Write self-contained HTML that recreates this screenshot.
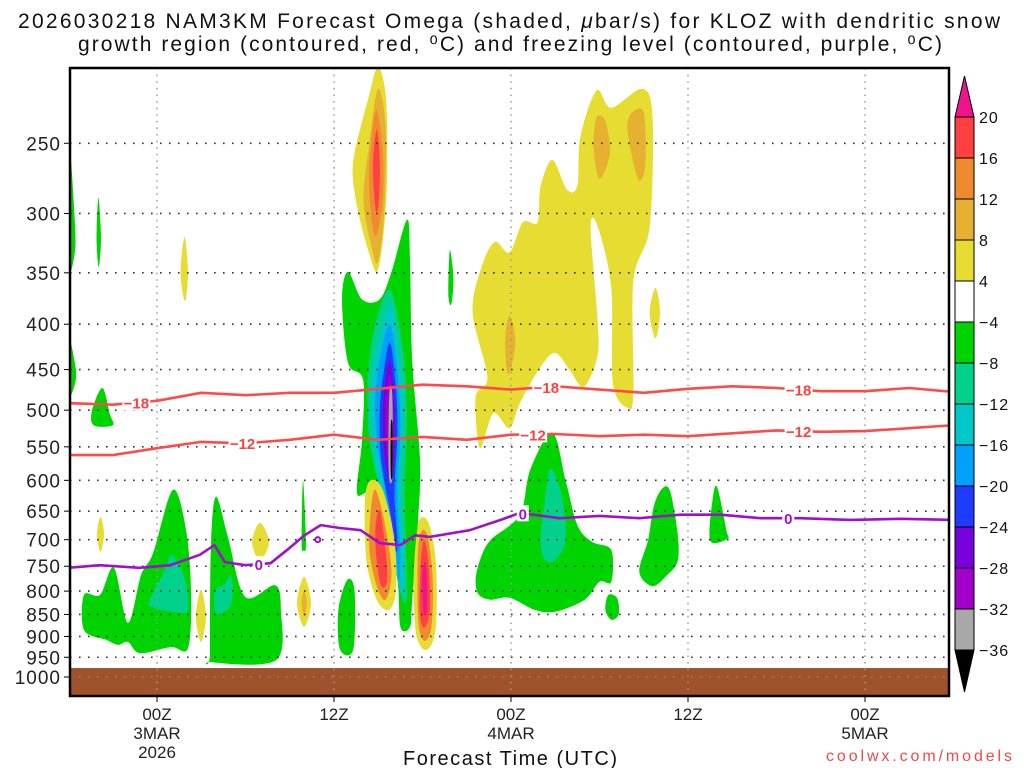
<!DOCTYPE html>
<html><head><meta charset="utf-8"><style>
html,body{margin:0;padding:0;background:#fff;}
svg{display:block;font-family:"Liberation Sans",sans-serif;}
</style></head><body>
<svg id="chart" width="1024" height="768" viewBox="0 0 1024 768" xmlns="http://www.w3.org/2000/svg">
<defs><clipPath id="plotclip"><rect x="70" y="68" width="879" height="628"/></clipPath></defs>
<rect width="1024" height="768" fill="#fff"/>
<text x="18" y="28" textLength="982" lengthAdjust="spacing" font-size="21" fill="#111">2026030218 NAM3KM Forecast Omega (shaded, <tspan font-style="italic">μ</tspan>bar/s) for KLOZ with dendritic snow</text>
<text x="78" y="51" textLength="864" lengthAdjust="spacing" font-size="21" fill="#111">growth region (contoured, red, ⁰C) and freezing level (contoured, purple, ⁰C)</text>
<g id="shades" clip-path="url(#plotclip)"></g>
<g id="ground" clip-path="url(#plotclip)"></g>
<g id="grid"></g>
<g id="contours" clip-path="url(#plotclip)"></g>
<rect x="70" y="68" width="879" height="628" fill="none" stroke="#000" stroke-width="2.5"/>
<g id="axes"></g>
<g id="colorbar"></g>
<text x="403" y="765" textLength="214" lengthAdjust="spacing" font-size="20" fill="#111">Forecast Time (UTC)</text>
<text x="826" y="761" textLength="186" lengthAdjust="spacing" font-size="16" fill="#f04848">coolwx.com/models</text>
</svg>
<script>
// ---- data ----
const xTickHours = [0, 12, 24, 36, 48];
const xTickLine1 = ["00Z", "12Z", "00Z", "12Z", "00Z"];
const xTickLine2 = ["3MAR", "", "4MAR", "", "5MAR"];
const xTickLine3 = ["2026", "", "", "", ""];
const yTickLevels = [250, 300, 350, 400, 450, 500, 550, 600, 650, 700, 750, 800, 850, 900, 950, 1000];
const cbarLabels = ["20", "16", "12", "8", "4", "−4", "−8", "−12", "−16", "−20", "−24", "−28", "−32", "−36"];
const cbarColors = ["#ff4040", "#f08a30", "#e6b030", "#e6dc32", "#ffffff", "#00d400", "#00d28c", "#00c8c8", "#00a0ff", "#1e3cff", "#7800dc", "#a000c8", "#a8a8a8"];
const surfacePressure = 977;
// contour lines
const lineHours = [-6,-3,0,3,6,9,12,15,18,21,24,27,30,33,36,39,42,45,48,51,54];
const isoMinus18 = [491,493,488,478,481,478,478,473,468,470,474,470,474,478,473,470,472,476,476,472,477];
const isoMinus12 = [562,562,552,543,545,540,533,540,536,540,533,532,535,533,535,531,527,529,528,524,520];
const freezeHours = [-6,-3.9,-1.2,0.9,2.9,3.9,4.6,6,7.7,9,10,11.1,12.4,13.8,15.1,16.5,17.5,18.5,21.2,23.3,24.6,27.3,30,32.7,35.5,38.2,40.9,43.6,47,50.4,54];
const freezeLevel = [753,748,753,748,728,710,742,748,744,715,692,674,679,683,706,710,692,695,683,665,653,662,658,662,656,656,662,662,665,663,665];
// shaded omega regions
const shapeLevels = [];
const shapePoints = [];
function add(level, pts){ shapeLevels.push(level); shapePoints.push(pts); }
add(3, [[14.98,205],[14.31,223],[13.42,255],[13.29,275],[13.76,305],[14.44,335],[14.92,349],[15.32,321],[15.59,275],[15.53,223]]);
add(2, [[14.98,217],[14.4,250],[14.0,290],[14.6,330],[14.98,340],[15.4,300],[15.5,240]]);
add(1, [[14.85,229],[14.4,265],[14.5,300],[14.85,318],[15.3,290],[15.3,255]]);
add(0, [[14.9,241],[14.64,265],[14.8,295],[15.0,295],[15.12,265]]);
add(3, [[29.8,218],[30.8,228],[32.9,217],[33.6,234],[33.4,311],[32.3,357],[32.3,478],[31.9,497],[30.9,466],[30.8,364],[29.9,311],[29.4,311],[29.9,403],[29.8,439],[28.9,471],[28.0,451],[27.0,431],[26.0,447],[24.6,491],[23.9,524],[22.8,504],[21.9,552],[21.6,483],[22.4,459],[21.4,388],[22.0,345],[22.9,323],[23.9,332],[24.8,307],[25.8,307],[26.0,280],[26.8,261],[27.8,282],[28.5,279],[28.7,246]]);
add(2, [[29.8,234],[29.6,253],[30.0,274],[30.7,257],[30.4,236]]);
add(2, [[32.2,231],[31.9,242],[32.6,274],[33.1,265],[33.0,231]]);
add(2, [[23.9,391],[23.6,417],[23.8,456],[24.3,420]]);
add(3, [[33.8,364],[33.4,388],[33.8,415],[34.1,388]]);
add(3, [[1.87,319],[2.1,350],[1.9,377],[1.6,350]]);
add(5, [[12.54,375],[12.95,349],[13.9,375],[15.1,375],[15.9,349],[16.95,305],[17.15,338],[17.3,439],[17.83,569],[17.7,665],[17.3,818],[17.15,878],[16.5,878],[16.3,777],[15.5,665],[14.44,620],[13.56,620],[13.9,540],[13.97,462],[12.95,442]]);
add(6, [[15.8,366],[16.6,420],[16.95,500],[16.8,620],[16.9,720],[16.95,812],[16.6,812],[16.1,700],[15.2,620],[14.4,540],[14.3,460],[14.8,400]]);
add(7, [[15.8,380],[16.4,430],[16.7,500],[16.5,620],[16.7,720],[16.7,800],[16.4,790],[15.9,690],[15.1,610],[14.6,540],[14.5,470],[15.0,420]]);
add(8, [[15.8,400],[16.3,450],[16.5,520],[16.3,620],[16.5,720],[16.4,780],[16.1,700],[15.5,620],[14.9,540],[14.8,480],[15.2,430]]);
add(9, [[15.8,420],[16.2,470],[16.3,530],[16.1,620],[16.3,700],[16.2,720],[15.8,650],[15.2,570],[15.1,500],[15.4,450]]);
add(10, [[15.8,440],[16.1,490],[16.1,570],[15.8,600],[15.4,560],[15.3,500],[15.5,460]]);
add(11, [[15.8,460],[16.0,500],[16.0,570],[15.8,590],[15.6,560],[15.5,500]]);
add(12, [[15.75,480],[15.95,480],[16.0,580],[15.85,605],[15.7,580]]);
add('black', [[15.85,520],[15.97,520],[15.97,590],[15.85,590]]);
add(3, [[14.1,631],[14.5,600],[15.3,615],[16.1,700],[16.2,800],[15.7,840],[14.9,818],[14.2,738]]);
add(1, [[14.5,648],[14.8,615],[15.4,665],[15.9,760],[15.5,818],[14.9,790],[14.4,719]]);
add(0, [[14.8,683],[15.1,648],[15.5,719],[15.6,780],[15.2,790],[14.9,740]]);
add(3, [[17.5,719],[17.8,665],[18.4,670],[18.9,740],[18.9,880],[18.3,932],[17.6,900],[17.4,800]]);
add(1, [[17.7,719],[18.0,683],[18.4,700],[18.7,780],[18.6,880],[18.1,910],[17.7,860]]);
add(0, [[17.9,740],[18.1,701],[18.4,740],[18.5,840],[18.1,880],[17.8,840]]);
add('pink', [[18.0,760],[18.2,740],[18.3,780],[18.3,840],[18.1,850],[18.0,810]]);
add(5, [[-4.95,808],[-3.86,808],[-2.92,753],[-1.97,869],[-1.08,767],[-0.27,725],[1.08,615],[1.97,683],[2.31,804],[2.1,928],[0.95,925],[-1.15,940],[-1.97,913],[-2.64,920],[-3.46,908],[-4.95,885]]);
add(5, [[3.66,706],[4.0,626],[4.81,695],[5.97,812],[8,788],[8.4,840],[8.07,957],[3.66,962],[3.59,940]]);
add(6, [[-0.47,818],[0.54,757],[1.02,728],[1.9,777],[2.1,840],[1.22,845],[-0.34,834]]);
add(6, [[3.93,800],[4.6,785],[5.0,767],[5.15,800],[4.9,835],[4.0,847]]);
add(5, [[9.8,706],[9.9,600],[10.1,706],[9.95,720]]);
add(5, [[12.4,930],[12.3,840],[12.9,777],[13.4,800],[13.3,932]]);
add(5, [[26.8,530],[25.3,584],[24.6,656],[22.6,701],[21.9,738],[21.6,777],[21.8,807],[22.6,818],[23.9,814],[25.6,840],[27,844],[29,818],[30,781],[30.8,781],[30.8,719],[29.5,704],[28.5,674],[27.7,600]]);
add(6, [[26.6,584],[26.3,631],[26.0,701],[26.3,738],[27.0,738],[27.7,701],[27.5,631],[27.0,592]]);
add(5, [[32.7,761],[33.3,700],[33.7,640],[34.3,612],[34.8,618],[35.3,690],[35.3,740],[34.6,767],[33.6,790]]);
add(5, [[37.5,701],[37.7,625],[38.0,612],[38.6,683],[38.7,698]]);
add(5, [[30.4,840],[30.6,808],[31.2,815],[31.3,850],[30.8,862]]);
add(5, [[-5.95,252],[-5.6,300],[-5.55,330],[-5.95,343]]);
add(5, [[-5.95,417],[-5.5,450],[-5.6,470],[-5.95,478]]);
add(5, [[-3.97,288],[-3.8,320],[-3.95,345],[-4.1,320]]);
add(5, [[-3.7,472],[-3.2,505],[-3.0,520],[-4.3,520],[-4.4,500]]);
add(5, [[19.75,370],[19.85,330],[20.1,355],[19.95,380]]);
add(3, [[-3.83,660],[-3.59,690],[-3.83,723],[-4.07,690]]);
add(3, [[2.98,797],[3.32,855],[2.98,913],[2.64,855]]);
add(3, [[6.98,670],[7.59,705],[6.98,738],[6.44,705]]);
add(3, [[9.97,771],[10.44,825],[9.97,878],[9.49,825]]);
add(2, [[9.97,800],[10.15,825],[9.97,855],[9.8,825]]);

// ---- scales ----
const X0 = 157, PXH = 14.75;
function xs(h){ return X0 + PXH*h; }
function ys(p){ return 677 - 385*Math.log(1000/p); }
const NS = "http://www.w3.org/2000/svg";
function mk(tag, attrs, parent){ const e=document.createElementNS(NS,tag); for(const k in attrs) e.setAttribute(k, attrs[k]); parent.appendChild(e); return e; }
function smoothClosed(pts){
  const n=pts.length; let d=`M${pts[0][0].toFixed(1)},${pts[0][1].toFixed(1)}`;
  for(let i=0;i<n;i++){
    const p0=pts[(i-1+n)%n],p1=pts[i],p2=pts[(i+1)%n],p3=pts[(i+2)%n];
    const t=0.16;
    const c1=[p1[0]+(p2[0]-p0[0])*t,p1[1]+(p2[1]-p0[1])*t];
    const c2=[p2[0]-(p3[0]-p1[0])*t,p2[1]-(p3[1]-p1[1])*t];
    d+=`C${c1[0].toFixed(1)},${c1[1].toFixed(1)} ${c2[0].toFixed(1)},${c2[1].toFixed(1)} ${p2[0].toFixed(1)},${p2[1].toFixed(1)}`;
  }
  return d+"Z";
}
const gS=document.getElementById('shades');
shapePoints.forEach((pts,i)=>{
  const lv=shapeLevels[i];
  const col = lv==='pink' ? '#f0148c' : lv==='black' ? '#000' : cbarColors[lv];
  const e=mk('path',{d:smoothClosed(pts.map(q=>[xs(q[0]),ys(q[1])])),fill:col},gS);
  
  
});
const gG=document.getElementById('ground');
const gr=mk('rect',{x:70,y:ys(surfacePressure),width:879,height:696-ys(surfacePressure),fill:'#a0522d'},gG);


const gGr=document.getElementById('grid');
yTickLevels.forEach(p=>{
  const y=ys(p);
  const l=mk('line',{x1:70,x2:949,y1:y,y2:y,stroke:p>=surfacePressure?'#888':'#333','stroke-width':1.6,'stroke-dasharray':'1.6 7.4'},gGr);
  
  
});
xTickHours.forEach(h=>{
  const x=xs(h);
  const l=mk('line',{x1:x,x2:x,y1:68,y2:696,stroke:'#999','stroke-width':1.4,'stroke-dasharray':'1.6 5'},gGr);
  
  
});
const gC=document.getElementById('contours');
function drawLine(hours, vals, color, name){
  const d=hours.map((h,i)=>(i?'L':'M')+xs(h).toFixed(1)+','+ys(vals[i]).toFixed(1)).join('');
  const e=mk('path',{d:d,fill:'none',stroke:color,'stroke-width':2.6,'stroke-linejoin':'round','stroke-linecap':'round'},gC);
  
  
}
drawLine(lineHours, isoMinus18, '#ff4a4a', 'isotherm-minus-18');
drawLine(lineHours, isoMinus12, '#ff4a4a', 'isotherm-minus-12');
drawLine(freezeHours, freezeLevel, '#a010c8', 'freezing-level-line');
function interp(hours, vals, h){ for(let i=0;i<hours.length-1;i++){ if(h>=hours[i]&&h<=hours[i+1]){ const t=(h-hours[i])/(hours[i+1]-hours[i]); return vals[i]+t*(vals[i+1]-vals[i]); } } return vals[vals.length-1]; }
function clabel(hours, vals, h, txt, color, name){
  const x=xs(h), y=ys(interp(hours,vals,h));
  const r=mk('rect',{x:x-14,y:y-8,width:28,height:16,fill:'#fff'},gC);
  
  
  const t=mk('text',{x:x,y:y+6,'text-anchor':'middle','font-size':15,'font-weight':'bold',fill:color},gC);
  t.textContent=txt;
  
  
}
[-1.4, 26.4, 43.5].forEach(h=>clabel(lineHours, isoMinus18, h, '−18', '#ff4040', 'isotherm-label-minus-18'));
[5.8, 25.5, 43.5].forEach(h=>clabel(lineHours, isoMinus12, h, '−12', '#ff4040', 'isotherm-label-minus-12'));
[6.9, 24.8, 42.8].forEach(h=>{
  const x=xs(h), y=ys(interp(freezeHours,freezeLevel,h));
  const r=mk('rect',{x:x-6,y:y-8,width:12,height:16,fill:'#fff'},gC);
  
  
  const t=mk('text',{x:x,y:y+6,'text-anchor':'middle','font-size':15,'font-weight':'bold',fill:'#a010c8'},gC);
  t.textContent='0';
  
  
});
const ring=mk('circle',{cx:xs(10.9),cy:ys(700),r:2.5,fill:'none',stroke:'#a010c8','stroke-width':2},gC);


const gA=document.getElementById('axes');
yTickLevels.forEach(p=>{
  const y=ys(p);
  const tk=mk('line',{x1:64,x2:70,y1:y,y2:y,stroke:'#000','stroke-width':1},gA);
  
  
  const t=mk('text',{x:61,y:y+7,'text-anchor':'end','font-size':19,fill:'#222','letter-spacing':'1'},gA);
  t.textContent=String(p);
  
  
});
xTickHours.forEach((h,i)=>{
  const x=xs(h);
  const tk=mk('line',{x1:x,x2:x,y1:696,y2:702,stroke:'#000','stroke-width':1},gA);
  
  
  [xTickLine1[i],xTickLine2[i],xTickLine3[i]].forEach((s,j)=>{
    if(!s) return;
    const t=mk('text',{x:x,y:720+j*19,'text-anchor':'middle','font-size':17,fill:'#222'},gA);
    t.textContent=s;
    
    
  });
});
const gB=document.getElementById('colorbar');
const CB_X=955, CB_W=19, CB_TOP=117, CB_STEP=41;
const cbTopArrow=mk('path',{d:`M${CB_X},${CB_TOP}L${CB_X+CB_W/2},76L${CB_X+CB_W},${CB_TOP}Z`,fill:'#f0148c',stroke:'#000','stroke-width':1},gB);


cbarColors.forEach((c,i)=>{
  const r=mk('rect',{x:CB_X,y:CB_TOP+i*CB_STEP,width:CB_W,height:CB_STEP,fill:c,stroke:'#000','stroke-width':1},gB);
  
  
});
const bEnd=CB_TOP+cbarColors.length*CB_STEP;
const cbBotArrow=mk('path',{d:`M${CB_X},${bEnd}L${CB_X+CB_W/2},${bEnd+42}L${CB_X+CB_W},${bEnd}Z`,fill:'#000',stroke:'#000','stroke-width':1},gB);


cbarLabels.forEach((s,i)=>{
  const t=mk('text',{x:979,y:CB_TOP+i*CB_STEP+6,'font-size':16,fill:'#111','letter-spacing':'1'},gB);
  t.textContent=s;
  
  
});
</script>
</body></html>
